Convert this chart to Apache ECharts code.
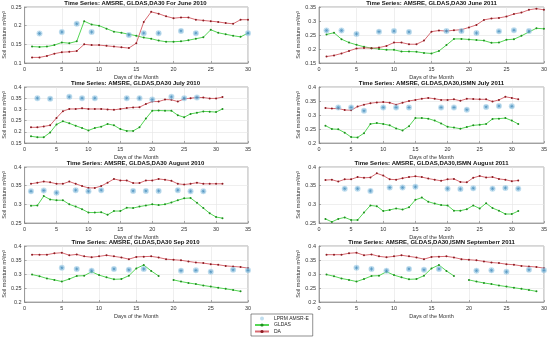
<!DOCTYPE html>
<html><head><meta charset="utf-8">
<script src="https://cdn.jsdelivr.net/npm/echarts@6/dist/echarts.min.js"></script>
<style>html,body{margin:0;padding:0;background:#fff}#c{width:550px;height:337px}</style>
</head><body><div id="c"></div>
<script>
// ---------- data ----------
const days30 = [1,2,3,4,5,6,7,8,9,10,11,12,13,14,15,16,17,18,19,20,21,22,23,24,25,26,27,28,29,30];
const days31 = [1,2,3,4,5,6,7,8,9,10,11,12,13,14,15,16,17,18,19,20,21,22,23,24,25,26,27,28,29,30,31];

const titles = [
  "Time Series: AMSRE, GLDAS,DA30 For June 2010",
  "Time Series: AMSRE, GLDAS,DA30 June 2011",
  "Time Series: AMSRE, GLDAS,DA30 July 2010",
  "Time Series: AMSRE, GLDAS,DA30,ISMN July 2011",
  "Time Series: AMSRE, GLDAS,DA30 August 2010",
  "Time Series: AMSRE, GLDAS,DA30,ISMN August 2011",
  "Time Series: AMSRE, GLDAS,DA30 Sep 2010",
  "Time Series: AMSRE, GLDAS,DA30,ISMN Septemberr 2011"
];
const xMaxes = [30, 30, 35, 35, 35, 35, 30, 30];
const yMins  = [0.1, 0.15, 0.15, 0.2, 0.25, 0.25, 0.2, 0.2];
const yMaxes = [0.25, 0.35, 0.4, 0.4, 0.4, 0.4, 0.4, 0.4];

// June 2010
const jun10LprmDays = [2,5,7,9,14,16,18,21,23,30];
const jun10Lprm = [0.179,0.183,0.205,0.183,0.175,0.180,0.180,0.186,0.180,0.180];
const jun10Gldas = [0.144,0.143,0.144,0.148,0.155,0.153,0.158,0.212,0.203,0.200,0.192,0.184,0.181,0.177,0.173,0.168,0.165,0.160,0.157,0.157,0.158,0.161,0.165,0.169,0.189,0.181,0.177,0.173,0.170,0.180];
const jun10Da = [0.115,0.115,0.119,0.125,0.129,0.130,0.132,0.150,0.148,0.148,0.146,0.144,0.142,0.140,0.153,0.210,0.237,0.232,0.225,0.220,0.222,0.222,0.216,0.214,0.212,0.210,0.207,0.205,0.216,0.216];

// June 2011
const jun11LprmDays = [1,3,5,8,10,12,17,19,21,24,26,28];
const jun11Lprm = [0.266,0.266,0.254,0.262,0.264,0.261,0.264,0.264,0.257,0.263,0.267,0.264];
const jun11Gldas = [0.252,0.258,0.235,0.223,0.215,0.208,0.203,0.200,0.197,0.197,0.191,0.191,0.190,0.186,0.184,0.193,0.214,0.236,0.236,0.234,0.232,0.230,0.222,0.223,0.233,0.235,0.247,0.261,0.274,0.272];
const jun11Da = [0.173,0.177,0.184,0.193,0.202,0.204,0.203,0.205,0.211,0.223,0.223,0.217,0.217,0.230,0.262,0.266,0.264,0.267,0.269,0.277,0.286,0.304,0.309,0.311,0.316,0.325,0.330,0.340,0.344,0.340];

// July 2010
const jul10LprmDays = [2,4,7,9,11,16,18,20,23,25,27];
const jul10Lprm = [0.350,0.347,0.356,0.350,0.350,0.350,0.350,0.344,0.356,0.350,0.353];
const jul10Gldas = [0.180,0.176,0.176,0.197,0.233,0.247,0.238,0.227,0.217,0.206,0.217,0.223,0.235,0.229,0.212,0.204,0.204,0.220,0.259,0.294,0.295,0.294,0.294,0.274,0.265,0.280,0.285,0.291,0.290,0.288,0.302];
const jul10Da = [0.220,0.220,0.224,0.229,0.262,0.292,0.302,0.302,0.305,0.302,0.302,0.302,0.300,0.298,0.302,0.306,0.309,0.310,0.324,0.335,0.335,0.344,0.343,0.335,0.347,0.350,0.353,0.353,0.349,0.349,0.355];

// July 2011
const jul11LprmDays = [3,5,7,10,12,14,19,21,23,26,28,30];
const jul11Lprm = [0.327,0.327,0.315,0.327,0.327,0.327,0.327,0.327,0.319,0.329,0.332,0.331];
const jul11Gldas = [0.262,0.250,0.249,0.237,0.221,0.220,0.235,0.268,0.271,0.268,0.263,0.252,0.245,0.260,0.289,0.289,0.287,0.280,0.270,0.258,0.255,0.251,0.257,0.263,0.265,0.268,0.286,0.287,0.289,0.280,0.268];
const jul11Da = [0.325,0.323,0.323,0.318,0.317,0.330,0.337,0.342,0.345,0.346,0.344,0.337,0.344,0.350,0.354,0.358,0.361,0.358,0.354,0.354,0.356,0.351,0.358,0.357,0.356,0.356,0.348,0.354,0.365,0.361,0.356];

// August 2010
const aug10LprmDays = [1,3,5,8,10,12,17,19,21,24,26,28];
const aug10Lprm = [0.335,0.337,0.331,0.338,0.335,0.338,0.336,0.336,0.336,0.338,0.335,0.335];
const aug10Gldas = [0.296,0.297,0.322,0.313,0.311,0.311,0.300,0.294,0.287,0.278,0.278,0.279,0.272,0.282,0.282,0.291,0.290,0.294,0.297,0.300,0.298,0.300,0.305,0.311,0.316,0.317,0.304,0.290,0.276,0.266,0.263];
const aug10Da = [0.355,0.358,0.361,0.359,0.355,0.355,0.361,0.355,0.349,0.344,0.344,0.349,0.358,0.368,0.364,0.364,0.357,0.357,0.364,0.364,0.368,0.366,0.363,0.355,0.353,0.355,0.358,0.355,0.355,0.355,0.355];

// August 2011
const aug11LprmDays = [4,6,8,11,13,15,20,22,24,27,29,31];
const aug11Lprm = [0.342,0.342,0.336,0.345,0.345,0.347,0.342,0.341,0.343,0.342,0.344,0.342];
const aug11Gldas = [0.261,0.253,0.261,0.265,0.258,0.258,0.278,0.297,0.295,0.282,0.285,0.289,0.286,0.292,0.312,0.318,0.307,0.302,0.298,0.297,0.283,0.283,0.287,0.297,0.289,0.303,0.290,0.283,0.274,0.274,0.282];
const aug11Da = [0.365,0.366,0.361,0.367,0.367,0.373,0.371,0.372,0.383,0.377,0.367,0.366,0.370,0.373,0.375,0.373,0.369,0.366,0.363,0.367,0.368,0.360,0.359,0.371,0.376,0.372,0.373,0.368,0.366,0.362,0.364];

// September 2010
const sep10LprmDays = [5,7,9,12,14,16,21,23,25,28,30];
const sep10Lprm = [0.322,0.318,0.312,0.318,0.315,0.318,0.312,0.313,0.308,0.315,0.313];
const sep10Gldas = [0.298,0.292,0.284,0.279,0.273,0.282,0.293,0.294,0.308,0.296,0.288,0.281,0.282,0.294,0.320,0.332,0.311,0.293,null,0.279,0.273,0.268,0.264,0.259,0.255,0.251,0.247,0.243,0.238,null];
const sep10Da = [0.369,0.369,0.369,0.374,0.376,0.367,0.370,0.363,0.360,0.363,0.367,0.363,0.359,0.353,0.361,0.362,0.363,0.359,0.353,0.351,0.349,0.345,0.341,0.339,0.335,0.333,0.329,0.327,0.325,0.321];

// September 2011 (drawn identical in the source figure)
const sep11LprmDays = [5,7,9,12,14,16,21,23,25,28,30];
const sep11Lprm = [0.322,0.318,0.312,0.318,0.315,0.318,0.312,0.313,0.308,0.315,0.313];
const sep11Gldas = [0.298,0.292,0.284,0.279,0.273,0.282,0.293,0.294,0.308,0.296,0.288,0.281,0.282,0.294,0.320,0.332,0.311,0.293,null,0.279,0.273,0.268,0.264,0.259,0.255,0.251,0.247,0.243,0.238,null];
const sep11Da = [0.369,0.369,0.369,0.374,0.376,0.367,0.370,0.363,0.360,0.363,0.367,0.363,0.359,0.353,0.361,0.362,0.363,0.359,0.353,0.351,0.349,0.345,0.341,0.339,0.335,0.333,0.329,0.327,0.325,0.321];

const panels = [
  [jun10LprmDays, jun10Lprm, days30, jun10Gldas, jun10Da],
  [jun11LprmDays, jun11Lprm, days30, jun11Gldas, jun11Da],
  [jul10LprmDays, jul10Lprm, days31, jul10Gldas, jul10Da],
  [jul11LprmDays, jul11Lprm, days31, jul11Gldas, jul11Da],
  [aug10LprmDays, aug10Lprm, days31, aug10Gldas, aug10Da],
  [aug11LprmDays, aug11Lprm, days31, aug11Gldas, aug11Da],
  [sep10LprmDays, sep10Lprm, days30, sep10Gldas, sep10Da],
  [sep11LprmDays, sep11Lprm, days30, sep11Gldas, sep11Da]
];

const xName = "Days of the Month";
const yName = "Soil moisture m\u00B3/m\u00B3";
const legendNames = ["LPRM AMSR-E", "GLDAS", "DA"];

// ---------- layout / style ----------
const FONT = "Liberation Sans";
const colLeft = [23, 319];
const rowTop = [7, 87, 167, 246];
const W = 225, H = 56;
const cBlueFill = "rgba(150,200,228,0.75)";
const cBlueStar = "#4a8fbf";
const cGreen = "#55d655";
const cGreenDot = "#1f8f1f";
const cRed = "#d86a72";
const cRedDot = "#8a1a20";
const asterisk = "path://M5,0L5,10M0,5L10,5M1.5,1.5L8.5,8.5M8.5,1.5L1.5,8.5";

const grids = [], xAxes = [], yAxes = [], series = [], tlist = [];
const pair = (xs, ys) => xs.map((d, k) => [d, ys[k] === null ? '-' : ys[k]]);

panels.forEach((p, i) => {
  const col = i % 2, row = Math.floor(i / 2);
  grids.push({left: colLeft[col], top: rowTop[row], width: W, height: H,
    show: true, borderColor: '#777', borderWidth: 0.6, backgroundColor: '#fff'});
  tlist.push({text: titles[i], left: colLeft[col] + W / 2, textAlign: 'center', top: rowTop[row] - 7,
    padding: 0, textStyle: {fontFamily: FONT, fontSize: 6, fontWeight: 'bold', color: '#111'}});
  xAxes.push({type: 'value', gridIndex: i, min: 0, max: xMaxes[i], interval: 5,
    name: xName, nameLocation: 'middle', nameGap: 11,
    nameTextStyle: {fontFamily: FONT, fontSize: 5.5, color: '#333'},
    axisLine: {lineStyle: {color: '#777', width: 0.6}},
    axisTick: {inside: true, length: 2, lineStyle: {color: '#777', width: 0.6}},
    axisLabel: {fontFamily: FONT, fontSize: 5.5, color: '#333', margin: 3},
    splitLine: {show: true, lineStyle: {color: '#e4e4e4', width: 0.6}}});
  yAxes.push({type: 'value', gridIndex: i, min: yMins[i], max: yMaxes[i], interval: 0.05,
    name: yName, nameLocation: 'middle', nameGap: 15,
    nameTextStyle: {fontFamily: FONT, fontSize: 5.5, color: '#333'},
    axisLine: {show: true, lineStyle: {color: '#777', width: 0.6}},
    axisTick: {show: true, inside: true, length: 2, lineStyle: {color: '#777', width: 0.6}},
    axisLabel: {fontFamily: FONT, fontSize: 5.5, color: '#333', margin: 3,
      formatter: v => String(+v.toFixed(2))},
    splitLine: {show: true, lineStyle: {color: '#e4e4e4', width: 0.6}}});
  series.push({name: legendNames[0], type: 'scatter', xAxisIndex: i, yAxisIndex: i,
    data: pair(p[0], p[1]), symbol: 'circle', symbolSize: 6,
    itemStyle: {color: cBlueFill}, z: 3});
  series.push({name: legendNames[0] + ' ', type: 'scatter', xAxisIndex: i, yAxisIndex: i,
    data: pair(p[0], p[1]), symbol: asterisk, symbolSize: 4,
    itemStyle: {color: 'none', borderColor: cBlueStar, borderWidth: 0.7}, z: 4});
  series.push({name: legendNames[1], type: 'line', xAxisIndex: i, yAxisIndex: i,
    data: pair(p[2], p[3]), symbol: 'circle', symbolSize: 2, showSymbol: true,
    lineStyle: {color: cGreen, width: 1}, itemStyle: {color: cGreenDot}, z: 2});
  series.push({name: legendNames[2], type: 'line', xAxisIndex: i, yAxisIndex: i,
    data: pair(p[2], p[4]), symbol: 'circle', symbolSize: 2, showSymbol: true,
    lineStyle: {color: cRed, width: 1}, itemStyle: {color: cRedDot}, z: 2});
});

const chart = echarts.init(document.getElementById('c'), null, {renderer: 'canvas'});
chart.setOption({
  animation: false,
  backgroundColor: '#fff',
  title: tlist,
  grid: grids,
  xAxis: xAxes,
  yAxis: yAxes,
  legend: {data: legendNames, orient: 'vertical', left: 251, top: 314,
    itemWidth: 14, itemHeight: 4, itemGap: 1.5, padding: [2, 4, 2, 3],
    borderColor: '#444', borderWidth: 0.6, backgroundColor: '#fff',
    textStyle: {fontFamily: FONT, fontSize: 5, color: '#222'}},
  series: series
});
</script>
</body></html>
